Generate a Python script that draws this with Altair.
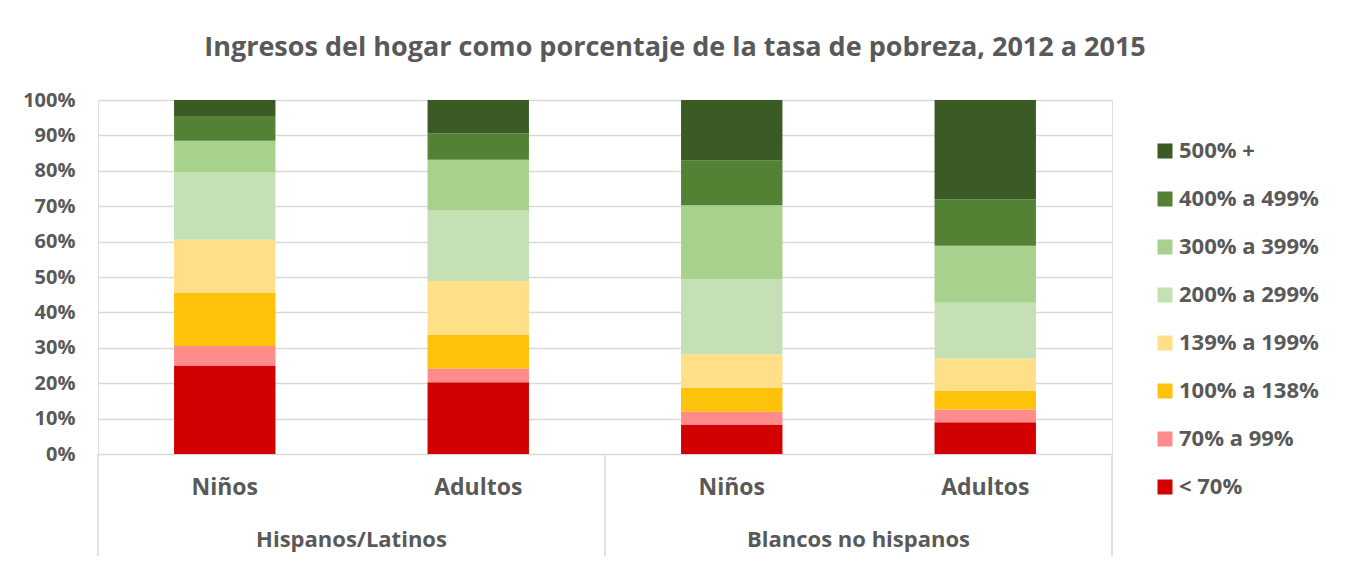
import altair as alt
import pandas as pd

groups = ["Hispanos/Latinos", "Hispanos/Latinos", "Blancos no hispanos", "Blancos no hispanos"]
ages = ["Niños", "Adultos", "Niños", "Adultos"]
categories = ["< 70%", "70% a 99%", "100% a 138%", "139% a 199%",
              "200% a 299%", "300% a 399%", "400% a 499%", "500% +"]
colors = ["#d20000", "#ff8b8b", "#ffc20a", "#ffe088",
          "#c5e0b4", "#a9d18e", "#548235", "#3b5a26"]

# share (%) per category, bottom (< 70%) to top (500% +), one list per bar
hisp_ninos = [25.0, 5.5, 15.1, 14.9, 19.0, 9.0, 7.0, 4.5]
hisp_adultos = [20.3, 3.8, 9.5, 15.3, 20.0, 14.2, 7.5, 9.4]
blanc_ninos = [8.3, 3.6, 6.8, 9.5, 21.2, 20.9, 12.7, 17.0]
blanc_adultos = [9.0, 3.6, 5.3, 9.1, 15.7, 16.1, 13.1, 28.1]
series = [hisp_ninos, hisp_adultos, blanc_ninos, blanc_adultos]

rows = []
for g, a, vals in zip(groups, ages, series):
    for i, (c, v) in enumerate(zip(categories, vals)):
        rows.append({"key": g + "|" + a, "grupo": g, "edad": a,
                     "cat": c, "idx": i, "valor": v / 100.0})
df = pd.DataFrame(rows)
keys = [g + "|" + a for g, a in zip(groups, ages)]
group_names = ["Hispanos/Latinos", "Blancos no hispanos"]
gdf = pd.DataFrame({"grupo": group_names})

TXT = "#595959"
FONT = "Open Sans"
W, H = 1014, 354

bars = alt.Chart(df).mark_bar(stroke=None).encode(
    x=alt.X("key:N", sort=keys,
            scale=alt.Scale(paddingInner=0.6, paddingOuter=0.3),
            axis=alt.Axis(title=None, labelExpr="split(datum.label, '|')[1]",
                          domain=False, ticks=False, labelAngle=0,
                          labelFontSize=23, labelFontWeight="bold",
                          labelColor=TXT, labelFont=FONT, labelPadding=22)),
    y=alt.Y("valor:Q", stack="zero",
            scale=alt.Scale(domain=[0, 1]),
            axis=alt.Axis(title=None, format=".0%", values=[i / 10 for i in range(11)],
                          domain=False, ticks=False, labelFontSize=20,
                          labelFontWeight="bold", labelColor=TXT, labelFont=FONT,
                          labelPadding=23, gridColor="#d9d9d9", gridWidth=1.5)),
    color=alt.Color("cat:N",
                    scale=alt.Scale(domain=categories[::-1], range=colors[::-1]),
                    legend=alt.Legend(title=None, orient="none", legendX=1056, legendY=40,
                                      symbolType="square", symbolSize=225,
                                      symbolStrokeWidth=0, labelFontSize=22,
                                      labelFontWeight="bold", labelColor=TXT,
                                      labelFont=FONT, rowPadding=26, labelOffset=3)),
    order=alt.Order("idx:Q", sort="ascending"),
)

group_x = alt.X("grupo:N", sort=group_names,
                scale=alt.Scale(paddingInner=0, paddingOuter=0), axis=None)

group_text = alt.Chart(gdf).mark_text(
    fontSize=22, fontWeight="bold", color=TXT, font=FONT, baseline="middle"
).encode(x=group_x, y=alt.value(440), text="grupo:N")

seps = alt.Chart(gdf).mark_rule(color="#d9d9d9", strokeWidth=1.5).encode(
    x=alt.X("grupo:N", sort=group_names, bandPosition=0,
            scale=alt.Scale(paddingInner=0, paddingOuter=0), axis=None),
    y=alt.value(H), y2=alt.value(H + 102),
)
right_sep = alt.Chart(gdf.head(1)).mark_rule(color="#d9d9d9", strokeWidth=1.5).encode(
    x=alt.value(W), y=alt.value(H), y2=alt.value(H + 102),
)

chart = alt.layer(bars, seps, right_sep, group_text).resolve_scale(
    x="independent"
).properties(
    width=W, height=H,
    autosize=alt.AutoSizeParams(type="none"),
    padding={"left": 90, "top": 92, "right": 228, "bottom": 103},
    title=alt.TitleParams("Ingresos del hogar como porcentaje de la tasa de pobreza, 2012 a 2015",
                          fontSize=27, fontWeight="bold", color=TXT, font=FONT,
                          anchor="middle", frame="group", dx=70, offset=28),
).configure_view(stroke=None).configure(background="white")

chart.save("out.html", embed_options={"renderer": "svg", "actions": False})
